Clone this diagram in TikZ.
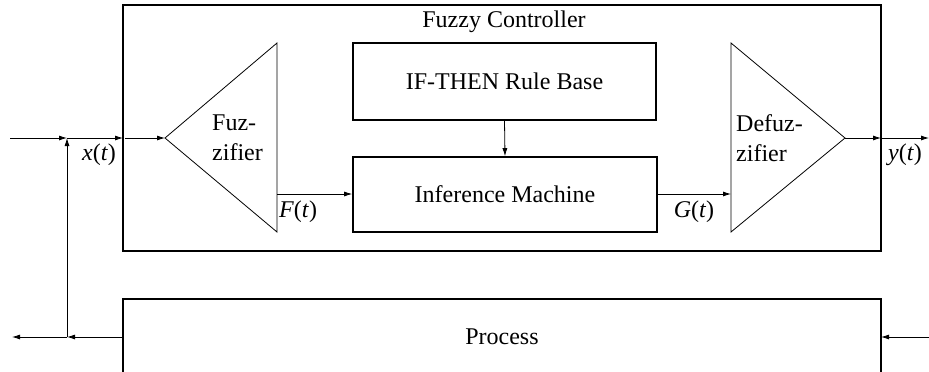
\documentclass[tikz,border=0pt]{standalone}
\usepackage{fontspec}
\setmainfont{Liberation Serif}
\usetikzlibrary{arrows.meta}
\tikzset{
  thickbox/.style={draw, line width=1.6pt, inner sep=0pt, font=\fontsize{24}{30}\selectfont},
  thinline/.style={line width=0.8pt},
  arr/.style={thinline, -{Latex[length=8pt,width=5pt]}},
  lbl/.style={inner sep=0pt, font=\fontsize{24}{30}\selectfont},
}
\begin{document}
\begin{tikzpicture}[x=1pt,y=-1pt]
\useasboundingbox (0,0) rectangle (929,372);
\begin{scope}
\clip (0,0) rectangle (929,372);
% outer controller box
\node[thickbox, minimum width=758pt, minimum height=246pt] (ctrl) at (502,128) {};
\node[lbl] (ctrltitle) at (504,22) {Fuzzy Controller};
% process box
\node[thickbox, minimum width=758pt, minimum height=76pt] (proc) at (502,337) {Process};
% rule base and inference
\node[thickbox, minimum width=303pt, minimum height=77pt] (rules) at (504.5,81.5) {IF-THEN Rule Base};
\node[thickbox, minimum width=304pt, minimum height=75pt] (inf) at (505,194.5) {Inference Machine};
% triangles
\coordinate (ftip) at (165,138);
\coordinate (ftop) at (277,43);
\coordinate (fbot) at (277,232);
\coordinate (fout) at (277,194);
\draw[thinline, line join=miter] (ftip) -- (ftop) -- (fbot) -- cycle;
\coordinate (dtip) at (845,138);
\coordinate (dtop) at (731,43);
\coordinate (dbot) at (731,232);
\coordinate (din) at (731,194);
\draw[thinline, line join=miter] (dtip) -- (dtop) -- (dbot) -- cycle;
\node[lbl, align=left, anchor=west] (fuzt) at (212,138) {Fuz-\\zifier};
\node[lbl, align=left, anchor=west] (defuzt) at (736,138) {Defuz-\\zifier};
% signal points
\coordinate (inL) at (10,138);
\coordinate (jx) at (67,138);
\coordinate (ctrlL) at (123,138);
\coordinate (ctrlLi) at (125,138);
\coordinate (ctrlR) at (881,138);
\coordinate (outR) at (929,138);
\coordinate (jb) at (67,337);
\coordinate (procL) at (123,337);
\coordinate (procR) at (881,337);
\coordinate (bL) at (12,337);
\coordinate (bR) at (929,337);
% connectors
\draw[arr] (inL) -- (jx);
\draw[arr] (jx) -- (ctrlL);
\draw[arr] (ctrlLi) -- (ftip);
\draw[arr] (fout) -- (inf.west |- fout);
\draw[arr] (inf.east |- din) -- (din);
\draw[arr] (rules.south) -- (inf.north);
\draw[arr] (dtip) -- (ctrlR);
\draw[arr] (ctrlR) -- (outR);
\draw[arr] (bR) -- (procR);
\draw[arr] (procL) -- (jb);
\draw[arr] (jb) -- (bL);
\draw[arr] (jb) -- (jx);
% labels
\node[lbl] (xl) at (99,155) {\textit{x}(\textit{t})};
\node[lbl] (Fl) at (298,212) {\textit{F}(\textit{t})};
\node[lbl] (Gl) at (694,212) {\textit{G}(\textit{t})};
\node[lbl] (yl) at (905,155) {\textit{y}(\textit{t})};
\end{scope}
\end{tikzpicture}
\end{document}
